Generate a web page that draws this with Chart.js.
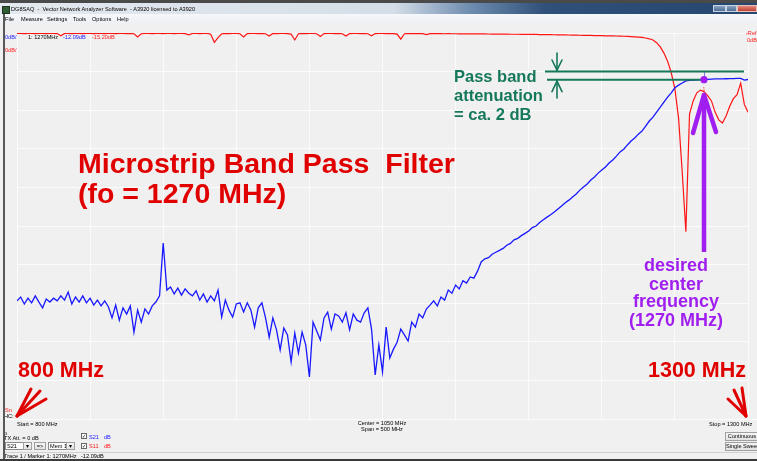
<!DOCTYPE html>
<html><head><meta charset="utf-8">
<script src="https://cdn.jsdelivr.net/npm/chart.js@4.4.1/dist/chart.umd.min.js"></script>
<style>
html,body{margin:0;padding:0;background:#f0f0f0;width:757px;height:461px;overflow:hidden;font-family:"Liberation Sans",Arial,sans-serif;}
.a{position:absolute;}
.t{position:absolute;white-space:nowrap;font-size:5.6px;line-height:6px;color:#000;z-index:3;}
.b{color:#1a1aff}.r{color:#ff1a1a}
.cb{position:absolute;width:4px;height:4px;border:1px solid #666;background:#fff;z-index:3;font-size:5px;line-height:4px;text-align:center;color:#000}
.box{position:absolute;border:1px solid #8a8a8a;background:#fff;z-index:3;box-sizing:border-box}
.btn{position:absolute;border:1px solid #a0a0a0;background:linear-gradient(#f6f6f6,#e2e2e2);z-index:3;box-sizing:border-box;font-size:5.6px;line-height:7px;text-align:center;white-space:nowrap;overflow:hidden}
#wrap{position:absolute;left:0;top:0;width:757px;height:461px;z-index:2}
</style></head>
<body>
<!-- window chrome -->
<div class="a" style="left:0;top:0;width:757px;height:3px;background:#4a4a4a"></div>
<div class="a" style="left:0;top:3px;width:757px;height:11px;background:linear-gradient(90deg,#e4e9ef 0%,#d5dee8 52%,#6f8db0 62%,#2f5079 72%,#24466f 100%)"></div>
<div class="a" style="left:2px;top:6px;width:6px;height:6px;background:#2f5b35;border:1px solid #1b331d"></div>
<div class="t" style="left:11px;top:6px">DG8SAQ&nbsp; -&nbsp; Vector Network Analyzer Software&nbsp; - A3920 licensed to A3920</div>
<div class="a" style="left:713px;top:5px;width:13px;height:7px;background:linear-gradient(#8aa3c2,#4d6d95);border:1px solid #c9d4e2;box-sizing:border-box"></div>
<div class="a" style="left:726px;top:5px;width:11px;height:7px;background:linear-gradient(#8aa3c2,#4d6d95);border:1px solid #c9d4e2;box-sizing:border-box"></div>
<div class="a" style="left:737px;top:5px;width:20px;height:7px;background:linear-gradient(#e08a7e,#c2402f);border:1px solid #e8c0b8;box-sizing:border-box"></div>
<div class="a" style="left:0;top:14px;width:757px;height:10px;background:linear-gradient(#f6f7fa,#eceff4)"></div>
<div class="t" style="left:5px;top:16px">File</div>
<div class="t" style="left:21px;top:16px">Measure</div>
<div class="t" style="left:47px;top:16px">Settings</div>
<div class="t" style="left:73px;top:16px">Tools</div>
<div class="t" style="left:92px;top:16px">Options</div>
<div class="t" style="left:117px;top:16px">Help</div>
<div class="a" style="left:3px;top:14px;width:1.5px;height:446px;background:#585858;z-index:4"></div>
<div class="a" style="left:4px;top:419px;width:753px;height:1px;background:#ffffff;z-index:1"></div>

<!-- header labels inside plot -->
<div class="t b" style="left:5px;top:34px">0dB/</div>
<div class="t" style="left:28px;top:34px" id="mkF">1: 1270MHz</div>
<div class="t b" style="left:63px;top:34px" id="mk21">-12.09dB</div>
<div class="t r" style="left:92px;top:34px" id="mk11">-15.20dB</div>
<div class="t r" style="left:5px;top:47px">0dB/</div>
<div class="t r" style="left:746px;top:30px">&lsaquo;Ref</div>
<div class="t r" style="left:747px;top:37px">0dB</div>
<div class="t r" style="left:5px;top:407px">Sn</div>
<div class="t" style="left:4px;top:413px">HC:</div>

<!-- bottom panel -->
<div class="t" style="left:17px;top:421px" id="startL">Start = 800 MHz</div>
<div class="t" style="left:332px;top:420px;width:100px;text-align:center" id="centerL">Center = 1050 MHz</div>
<div class="t" style="left:332px;top:426px;width:100px;text-align:center" id="spanL">Span = 500 MHz</div>
<div class="t" style="left:709px;top:421px" id="stopL">Stop = 1300 MHz</div>
<div class="t" style="left:4px;top:430px">o</div>
<div class="t" style="left:4px;top:435px">TX Att. = 0 dB</div>
<div class="cb" style="left:81px;top:433px">&#10003;</div>
<div class="t b" style="left:89px;top:434px">S21</div>
<div class="t b" style="left:104px;top:434px">dB</div>
<div class="cb" style="left:81px;top:443px">&#10003;</div>
<div class="t r" style="left:89px;top:443px">S11</div>
<div class="t r" style="left:104px;top:443px">dB</div>
<div class="box" style="left:5px;top:442px;width:27px;height:8px"></div>
<div class="t" style="left:7px;top:443px">S21</div>
<div class="btn" style="left:23px;top:442px;width:9px;height:8px;line-height:6px">&#9662;</div>
<div class="btn" style="left:34px;top:442px;width:12px;height:8px;line-height:6px">=&gt;</div>
<div class="box" style="left:48px;top:442px;width:27px;height:8px"></div>
<div class="t" style="left:50px;top:443px">Mem 1</div>
<div class="btn" style="left:66px;top:442px;width:9px;height:8px;line-height:6px">&#9662;</div>
<div class="btn" style="left:725px;top:432px;width:34px;height:9px">Continuous</div>
<div class="btn" style="left:725px;top:442px;width:34px;height:9px">Single Sweep</div>
<div class="a" style="left:4px;top:452px;width:753px;height:1px;background:#d0d0d0;z-index:1"></div>
<div class="t" style="left:4px;top:453px">Trace 1 / Marker 1: 1270MHz</div>
<div class="t" style="left:81px;top:453px" id="stat21">-12.09dB</div>
<div class="a" style="left:0;top:459px;width:757px;height:2px;background:#3a3a3a;z-index:4"></div>

<div id="wrap"><canvas id="c" width="757" height="461"></canvas></div>

<script>
// ---- data ----
const freqMHz = [
800,802.5,805,807.5,810,812.5,815,817.5,820,822.5,
825,827.5,830,832.5,835,837.5,840,842.5,845,847.5,
850,852.5,855,857.5,860,862.5,865,867.5,870,872.5,
875,877.5,880,882.5,885,887.5,890,892.5,895,897.5,
900,902.5,905,907.5,910,912.5,915,917.5,920,922.5,
925,927.5,930,932.5,935,937.5,940,942.5,945,947.5,
950,952.5,955,957.5,960,962.5,965,967.5,970,972.5,
975,977.5,980,982.5,985,987.5,990,992.5,995,997.5,
1000,1002.5,1005,1007.5,1010,1012.5,1015,1017.5,1020,1022.5,
1025,1027.5,1030,1032.5,1035,1037.5,1040,1042.5,1045,1047.5,
1050,1052.5,1055,1057.5,1060,1062.5,1065,1067.5,1070,1072.5,
1075,1077.5,1080,1082.5,1085,1087.5,1090,1092.5,1095,1097.5,
1100,1102.5,1105,1107.5,1110,1112.5,1115,1117.5,1120,1122.5,
1125,1127.5,1130,1132.5,1135,1137.5,1140,1142.5,1145,1147.5,
1150,1152.5,1155,1157.5,1160,1162.5,1165,1167.5,1170,1172.5,
1175,1177.5,1180,1182.5,1185,1187.5,1190,1192.5,1195,1197.5,
1200,1202.5,1205,1207.5,1210,1212.5,1215,1217.5,1220,1222.5,
1225,1227.5,1230,1232.5,1235,1237.5,1240,1242.5,1245,1247.5,
1250,1252.5,1255,1257.5,1260,1262.5,1265,1267.5,1270,1272.5,
1275,1277.5,1280,1282.5,1285,1287.5,1290,1292.5,1295,1297.5,
1300];

// S21 (blue, trace 1) in dB
const s21dB = [
-69.4,-68.4,-70.2,-68.7,-69.9,-68.1,-69.7,-71.2,-68.9,-69.7,
-68.7,-69.4,-68.1,-69.2,-67.1,-70.2,-68.4,-69.7,-68.1,-69.9,
-68.7,-70.5,-69.2,-70.7,-69.4,-70.9,-73.8,-70.5,-74.4,-71.2,
-72.8,-70.7,-77.5,-71.8,-74.9,-71.5,-72.8,-70.7,-69.7,-68.1,
-54.4,-66.6,-65.8,-67.6,-66.1,-67.9,-66.3,-67.4,-68.1,-66.8,
-69.2,-67.6,-69.7,-68.1,-69.4,-66.6,-73.6,-69.2,-71.8,-73.6,
-70.2,-69.9,-72.3,-69.9,-71.8,-76.2,-71.2,-69.9,-73.8,-78.8,
-73.8,-76.9,-82.1,-76.4,-78.2,-85.2,-77.7,-82.9,-77.5,-80.8,
-89.1,-74.9,-77.2,-79.5,-73.8,-72.3,-76.7,-72.8,-73.3,-74.9,
-72.5,-76.9,-72.8,-74.4,-74.9,-72.5,-71.2,-76.7,-88.6,-80.8,
-87.8,-76.2,-84.2,-81.9,-80.1,-76.7,-78.2,-79.8,-74.9,-76.2,
-72.8,-73.8,-71.5,-70.5,-69.4,-70.7,-68.4,-69.2,-66.6,-67.4,
-65.3,-66.3,-64.2,-64.8,-63.2,-63.5,-61.7,-59.3,-58.5,-58.2,
-57.3,-56.8,-56.3,-55.8,-55.0,-54.5,-53.6,-53.2,-52.5,-51.9,
-51.3,-50.4,-50.0,-49.1,-48.4,-47.7,-47.1,-46.4,-45.6,-44.8,
-44.0,-43.3,-42.5,-41.7,-40.7,-39.9,-39.1,-38.1,-37.3,-36.3,
-35.5,-34.7,-33.7,-32.9,-31.9,-30.8,-30.1,-29.0,-28.0,-27.2,
-26.2,-25.4,-24.1,-22.8,-21.8,-20.5,-19.2,-17.9,-16.6,-15.5,
-14.2,-13.5,-12.95,-12.4,-12.3,-12.2,-12.15,-12.1,-12.09,-12.0,
-11.95,-11.9,-11.9,-11.9,-11.85,-11.8,-11.8,-11.75,-11.75,-12.2,
-12.05];

// S11 (red) in dB
const s11dB = [
-0.10,-0.12,-0.15,-0.10,-0.12,-0.15,-0.10,-0.12,-0.15,-0.10,
-0.12,-0.15,-0.70,-0.12,-0.10,-0.15,-0.12,-0.10,-0.15,-0.12,
-0.10,-0.15,-0.12,-0.10,-0.15,-0.12,-0.10,-0.15,-0.12,-0.10,
-0.15,-0.12,-0.20,-1.00,-0.20,-0.12,-0.10,-0.15,-0.12,-0.10,
-0.15,-0.12,-0.10,-0.15,-0.12,-0.10,-0.15,-0.50,-0.12,-0.10,
-0.15,-0.12,-0.10,-0.30,-2.40,-1.20,-0.20,-0.12,-0.15,-0.10,
-0.12,-0.20,-1.00,-0.15,-0.12,-0.10,-0.15,-0.12,-0.20,-0.80,
-0.12,-0.15,-0.10,-0.12,-0.15,-0.30,-1.80,-0.20,-0.12,-0.15,
-0.10,-0.12,-0.20,-0.90,-0.15,-0.12,-0.10,-0.15,-0.12,-0.20,
-0.80,-0.15,-0.12,-0.10,-0.15,-0.12,-0.20,-0.70,-0.15,-0.12,
-0.10,-0.15,-0.12,-0.15,-0.30,-1.60,-0.20,-0.15,-0.12,-0.15,
-0.15,-0.18,-0.40,-0.18,-0.15,-0.18,-0.18,-0.20,-0.18,-0.20,
-0.20,-0.22,-0.20,-0.22,-0.22,-0.24,-0.22,-0.25,-0.25,-0.26,
-0.27,-0.28,-0.28,-0.30,-0.30,-0.32,-0.32,-0.33,-0.35,-0.35,
-0.36,-0.38,-0.38,-0.40,-0.40,-0.42,-0.44,-0.45,-0.47,-0.48,
-0.50,-0.52,-0.54,-0.56,-0.58,-0.60,-0.62,-0.64,-0.66,-0.68,
-0.70,-0.72,-0.74,-0.76,-0.78,-0.80,-0.84,-0.88,-0.93,-0.98,
-1.05,-1.15,-1.30,-1.50,-1.80,-2.50,-3.60,-5.20,-7.30,-10.3,
-14.5,-22.0,-36.0,-51.5,-21.0,-17.6,-15.5,-14.8,-15.20,-16.3,
-17.6,-20.5,-22.5,-23.3,-21.5,-19.0,-17.0,-16.0,-13.0,-18.5,
-20.5];

const markerFreq = [1270];
const markerS21 = [-12.09];
const markerS11 = [-15.20];
const passBandRef = [-10];              // upper green reference line (dB)
const xGridMHz = [800,850,900,950,1000,1050,1100,1150,1200,1250,1300];
const yGridDB = [0,-10,-20,-30,-40,-50,-60,-70,-80,-90,-100];

const titleLines = ["Microstrip Band Pass  Filter", "(fo = 1270 MHz)"];
const greenLines = ["Pass band", "attenuation", "= ca. 2 dB"];
const purpleLines = ["desired", "center", "frequency", "(1270 MHz)"];
const startLabel = ["800 MHz"];
const stopLabel = ["1300 MHz"];

// ---- overlay drawn on top of the plot ----
function seg(ctx, x1, y1, x2, y2){ctx.beginPath();ctx.moveTo(x1,y1);ctx.lineTo(x2,y2);ctx.stroke();}

const overlay = {
  id:'overlay',
  afterDatasetsDraw(chart){
    const {ctx, scales:{x, y}} = chart;
    const mx = Math.round(x.getPixelForValue(markerFreq[0]));
    const my = y.getPixelForValue(markerS21[0]);
    const ry = y.getPixelForValue(markerS11[0]);
    const upY = y.getPixelForValue(passBandRef[0]);
    ctx.save();

    // thin marker line
    ctx.strokeStyle = '#7c7cd8'; ctx.lineWidth = 1;
    seg(ctx, mx+0.5, upY, mx+0.5, my);
    // S11 marker label
    ctx.fillStyle = '#ff4040'; ctx.font = '5px "Liberation Sans"'; ctx.textAlign='center';
    ctx.fillText('1', mx, ry-1);

    // green pass-band lines
    const G = '#15785b';
    ctx.strokeStyle = G; ctx.lineWidth = 2; ctx.lineCap = 'butt';
    seg(ctx, 545, upY, 744, upY);
    seg(ctx, 547, my, mx, my);
    // green arrows
    ctx.lineWidth = 1.6; ctx.lineCap = 'round';
    seg(ctx, 557, 53, 557, upY-1.5);
    seg(ctx, 552, 60, 557, upY-1.5);
    seg(ctx, 562, 60, 557, upY-1.5);
    seg(ctx, 557, my+1.5, 557, 98);
    seg(ctx, 552, my+12, 557, my+1.5);
    seg(ctx, 562, my+12, 557, my+1.5);

    // green text
    ctx.fillStyle = G; ctx.textAlign = 'left';
    ctx.font = 'bold 16.5px "Liberation Sans"';
    const gb = [82, 100.5, 119.5];
    greenLines.forEach((s,i)=>ctx.fillText(s, 454, gb[i]));

    // red title
    ctx.fillStyle = '#e10000';
    ctx.font = 'bold 28.5px "Liberation Sans"';
    ctx.fillText(titleLines[0], 78, 173);
    ctx.fillText(titleLines[1], 78, 203);

    // frequency labels + arrows
    ctx.font = 'bold 21.5px "Liberation Sans"';
    ctx.fillText(startLabel[0], 18, 377);
    ctx.fillText(stopLabel[0], 648, 377);
    ctx.strokeStyle = '#e10000'; ctx.lineWidth = 3; ctx.lineCap='round';
    seg(ctx, 17, 416, 31, 389); seg(ctx, 17, 416, 40, 391); seg(ctx, 17, 416, 46, 399);
    seg(ctx, 746, 416, 728, 399); seg(ctx, 746, 416, 734, 390); seg(ctx, 746, 416, 742, 388);

    // purple marker dot + arrow
    const P = '#a01ff0';
    ctx.fillStyle = P;
    ctx.beginPath(); ctx.arc(mx, my, 3.6, 0, Math.PI*2); ctx.fill();
    ctx.strokeStyle = P; ctx.lineWidth = 4.5; ctx.lineCap = 'butt';
    seg(ctx, mx, 96, mx, 252);
    ctx.lineCap = 'round';
    seg(ctx, mx, 95, mx-11, 133);
    seg(ctx, mx, 95, mx+12, 132);

    // purple text
    ctx.font = 'bold 18px "Liberation Sans"'; ctx.textAlign = 'center';
    const pb = [271, 289.5, 307, 325.5];
    purpleLines.forEach((s,i)=>ctx.fillText(s, 676, pb[i]));
    ctx.restore();
  }
};

Chart.defaults.font.family = '"Liberation Sans", Arial, sans-serif';
new Chart(document.getElementById('c'), {
  type: 'line',
  data: {
    datasets: [
      {label:'S21', data: freqMHz.map((f,i)=>({x:f, y:s21dB[i]})), borderColor:'#1818ff', borderWidth:1.3, pointRadius:0, tension:0, order:0},
      {label:'S11', data: freqMHz.map((f,i)=>({x:f, y:s11dB[i]})), borderColor:'#ff1414', borderWidth:1.2, pointRadius:0, tension:0, order:1}
    ]
  },
  options: {
    responsive:false, animation:false, devicePixelRatio:1,
    layout:{padding:{left:17, right:9, top:33, bottom:42}},
    plugins:{legend:{display:false}, tooltip:{enabled:false}},
    scales:{
      x:{type:'linear', min:800, max:1300,
         afterBuildTicks:s=>{s.ticks = xGridMHz.map(v=>({value:v}));},
         ticks:{display:false}, grid:{color:'#fbfbfb', lineWidth:1, drawTicks:false}, border:{display:false}},
      y:{type:'linear', min:-100, max:0,
         afterBuildTicks:s=>{s.ticks = yGridDB.map(v=>({value:v}));},
         ticks:{display:false}, grid:{color:'#fbfbfb', lineWidth:1, drawTicks:false}, border:{display:false}}
    }
  },
  plugins:[overlay]
});

// marker text from data
document.getElementById('mk21').textContent = markerS21[0].toFixed(2)+'dB';
document.getElementById('mk11').textContent = markerS11[0].toFixed(2)+'dB';
document.getElementById('stat21').textContent = markerS21[0].toFixed(2)+'dB';
</script>
</body></html>
